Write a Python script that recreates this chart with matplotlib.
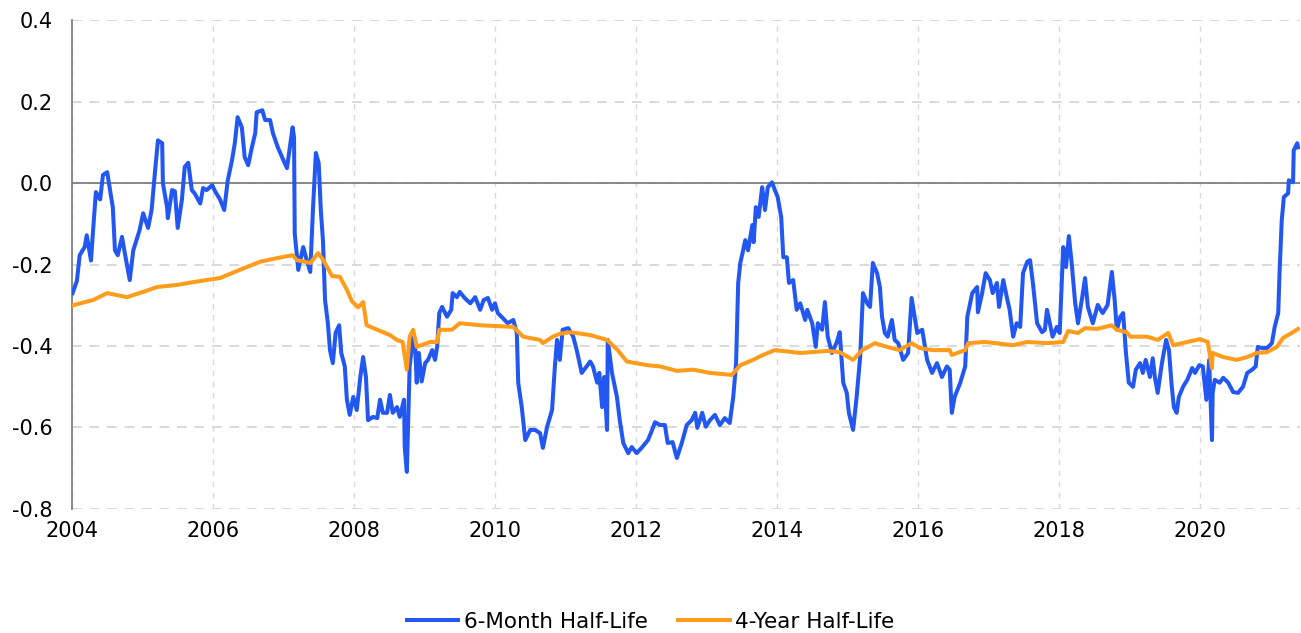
import matplotlib
matplotlib.use("Agg")
import matplotlib.pyplot as plt
import numpy as np

# 6-month half-life (decimal year, value)
short_years = [
    2004.01, 2004.07, 2004.11, 2004.18, 2004.21, 2004.27, 2004.30, 2004.34, 2004.40, 2004.44,
    2004.50, 2004.54, 2004.58, 2004.61, 2004.65, 2004.71, 2004.75, 2004.82, 2004.87, 2004.96,
    2005.01, 2005.08, 2005.13, 2005.18, 2005.22, 2005.28, 2005.29, 2005.35, 2005.36, 2005.42,
    2005.46, 2005.50, 2005.56, 2005.60, 2005.65, 2005.70, 2005.74, 2005.82, 2005.86, 2005.91,
    2005.99, 2006.03, 2006.10, 2006.16, 2006.21, 2006.27, 2006.31, 2006.35, 2006.41, 2006.45,
    2006.50, 2006.55, 2006.60, 2006.62, 2006.70, 2006.74, 2006.81, 2006.85, 2006.92, 2006.98,
    2007.05, 2007.09, 2007.13, 2007.15, 2007.16, 2007.21, 2007.28, 2007.33, 2007.38, 2007.42,
    2007.46, 2007.50, 2007.53, 2007.56, 2007.59, 2007.63, 2007.66, 2007.70, 2007.74, 2007.79,
    2007.82, 2007.87, 2007.90, 2007.94, 2007.99, 2008.04, 2008.09, 2008.13, 2008.17, 2008.20,
    2008.27, 2008.33, 2008.37, 2008.41, 2008.47, 2008.51, 2008.55, 2008.61, 2008.65, 2008.71,
    2008.72, 2008.75, 2008.79, 2008.84, 2008.87, 2008.89, 2008.92, 2008.96, 2009.01, 2009.05,
    2009.11, 2009.15, 2009.18, 2009.21, 2009.25, 2009.32, 2009.38, 2009.40, 2009.46, 2009.50,
    2009.57, 2009.65, 2009.72, 2009.79, 2009.84, 2009.90, 2009.96, 2010.00, 2010.04, 2010.11,
    2010.18, 2010.26, 2010.31, 2010.33, 2010.38, 2010.43, 2010.50, 2010.57, 2010.64, 2010.68,
    2010.74, 2010.81, 2010.85, 2010.88, 2010.92, 2010.96, 2011.04, 2011.11, 2011.16, 2011.23,
    2011.30, 2011.35, 2011.39, 2011.45, 2011.48, 2011.52, 2011.55, 2011.59, 2011.60, 2011.66,
    2011.73, 2011.77, 2011.82, 2011.89, 2011.94, 2012.01, 2012.09, 2012.17, 2012.23, 2012.27,
    2012.34, 2012.41, 2012.45, 2012.52, 2012.58, 2012.65, 2012.72, 2012.79, 2012.84, 2012.87,
    2012.94, 2012.99, 2013.05, 2013.12, 2013.19, 2013.26, 2013.33, 2013.38, 2013.42, 2013.45,
    2013.48, 2013.52, 2013.55, 2013.59, 2013.65, 2013.67, 2013.70, 2013.74, 2013.79, 2013.83,
    2013.87, 2013.93, 2013.97, 2014.01, 2014.06, 2014.09, 2014.14, 2014.17, 2014.23, 2014.28,
    2014.33, 2014.40, 2014.43, 2014.50, 2014.55, 2014.58, 2014.64, 2014.68, 2014.72, 2014.78,
    2014.85, 2014.89, 2014.94, 2014.99, 2015.02, 2015.08, 2015.13, 2015.18, 2015.22, 2015.28,
    2015.32, 2015.36, 2015.42, 2015.46, 2015.49, 2015.53, 2015.57, 2015.63, 2015.67, 2015.72,
    2015.79, 2015.86, 2015.91, 2015.99, 2016.06, 2016.13, 2016.20, 2016.27, 2016.34, 2016.41,
    2016.45, 2016.48, 2016.52, 2016.60, 2016.67, 2016.70, 2016.77, 2016.84, 2016.85, 2016.91,
    2016.96, 2017.02, 2017.06, 2017.12, 2017.15, 2017.21, 2017.26, 2017.30, 2017.35, 2017.40,
    2017.45, 2017.49, 2017.55, 2017.59, 2017.63, 2017.69, 2017.76, 2017.80, 2017.83, 2017.87,
    2017.91, 2017.97, 2018.01, 2018.06, 2018.10, 2018.14, 2018.18, 2018.23, 2018.27, 2018.33,
    2018.37, 2018.41, 2018.48, 2018.55, 2018.62, 2018.69, 2018.75, 2018.79, 2018.82, 2018.87,
    2018.91, 2018.95, 2018.99, 2019.05, 2019.09, 2019.15, 2019.19, 2019.23, 2019.29, 2019.33,
    2019.36, 2019.40, 2019.46, 2019.52, 2019.56, 2019.60, 2019.63, 2019.67, 2019.70, 2019.76,
    2019.82, 2019.89, 2019.93, 2019.99, 2020.04, 2020.09, 2020.13, 2020.17, 2020.18, 2020.21,
    2020.28, 2020.33, 2020.40, 2020.47, 2020.54, 2020.61, 2020.67, 2020.74, 2020.79, 2020.82,
    2020.88, 2020.95, 2021.02, 2021.06, 2021.11, 2021.13, 2021.16, 2021.19, 2021.25, 2021.26,
    2021.32, 2021.33, 2021.38, 2021.39,
]
short_values = [
    -0.270, -0.240, -0.177, -0.157, -0.128, -0.190, -0.115, -0.022, -0.040, 0.020,
    0.027, -0.017, -0.060, -0.165, -0.177, -0.132, -0.172, -0.238, -0.165, -0.115,
    -0.074, -0.110, -0.066, 0.032, 0.105, 0.098, 0.000, -0.060, -0.086, -0.017,
    -0.020, -0.110, -0.040, 0.040, 0.050, -0.017, -0.025, -0.050, -0.012, -0.017,
    -0.005, -0.020, -0.040, -0.066, 0.007, 0.056, 0.098, 0.162, 0.137, 0.064,
    0.044, 0.086, 0.123, 0.174, 0.179, 0.155, 0.155, 0.123, 0.088, 0.064,
    0.037, 0.088, 0.137, 0.113, -0.123, -0.213, -0.157, -0.189, -0.218, -0.059,
    0.074, 0.049, -0.066, -0.140, -0.287, -0.344, -0.410, -0.442, -0.368, -0.349,
    -0.417, -0.450, -0.532, -0.569, -0.525, -0.557, -0.476, -0.427, -0.476, -0.582,
    -0.574, -0.577, -0.532, -0.564, -0.564, -0.520, -0.564, -0.550, -0.574, -0.532,
    -0.648, -0.709, -0.450, -0.377, -0.410, -0.490, -0.417, -0.487, -0.442, -0.434,
    -0.410, -0.434, -0.402, -0.319, -0.304, -0.328, -0.311, -0.270, -0.280, -0.267,
    -0.282, -0.295, -0.280, -0.311, -0.287, -0.282, -0.311, -0.295, -0.319, -0.331,
    -0.344, -0.336, -0.368, -0.490, -0.550, -0.631, -0.606, -0.606, -0.614, -0.650,
    -0.598, -0.557, -0.450, -0.385, -0.434, -0.360, -0.356, -0.377, -0.410, -0.466,
    -0.450, -0.438, -0.450, -0.490, -0.466, -0.550, -0.476, -0.606, -0.385, -0.466,
    -0.525, -0.582, -0.638, -0.663, -0.648, -0.663, -0.648, -0.631, -0.606, -0.587,
    -0.594, -0.594, -0.638, -0.636, -0.675, -0.638, -0.594, -0.582, -0.564, -0.601,
    -0.564, -0.598, -0.582, -0.569, -0.594, -0.577, -0.589, -0.525, -0.442, -0.245,
    -0.196, -0.165, -0.140, -0.165, -0.103, -0.145, -0.059, -0.083, -0.010, -0.066,
    -0.010, 0.002, -0.017, -0.034, -0.083, -0.182, -0.182, -0.245, -0.238, -0.311,
    -0.295, -0.336, -0.311, -0.344, -0.402, -0.344, -0.360, -0.292, -0.377, -0.417,
    -0.390, -0.366, -0.490, -0.515, -0.564, -0.606, -0.525, -0.427, -0.270, -0.295,
    -0.304, -0.196, -0.221, -0.255, -0.328, -0.368, -0.377, -0.336, -0.385, -0.393,
    -0.434, -0.417, -0.282, -0.368, -0.360, -0.434, -0.466, -0.442, -0.476, -0.450,
    -0.458, -0.564, -0.525, -0.490, -0.450, -0.328, -0.270, -0.255, -0.317, -0.270,
    -0.221, -0.238, -0.270, -0.245, -0.304, -0.238, -0.280, -0.311, -0.377, -0.344,
    -0.353, -0.221, -0.193, -0.189, -0.245, -0.344, -0.366, -0.360, -0.311, -0.344,
    -0.377, -0.353, -0.368, -0.157, -0.206, -0.130, -0.196, -0.295, -0.344, -0.280,
    -0.233, -0.304, -0.344, -0.299, -0.319, -0.299, -0.218, -0.287, -0.360, -0.328,
    -0.319, -0.417, -0.490, -0.500, -0.458, -0.442, -0.466, -0.434, -0.476, -0.430,
    -0.476, -0.515, -0.442, -0.385, -0.410, -0.500, -0.550, -0.564, -0.525, -0.500,
    -0.483, -0.454, -0.466, -0.447, -0.450, -0.532, -0.434, -0.631, -0.515, -0.483,
    -0.490, -0.478, -0.490, -0.513, -0.515, -0.500, -0.466, -0.458, -0.450, -0.402,
    -0.405, -0.405, -0.393, -0.353, -0.319, -0.213, -0.091, -0.034, -0.025, 0.007,
    0.002, 0.081, 0.098, 0.088,
]

# 4-year half-life (decimal year, value)
long_years = [
    2004.01, 2004.30, 2004.50, 2004.78, 2005.01, 2005.21, 2005.49, 2005.72, 2006.10, 2006.38,
    2006.67, 2006.91, 2007.13, 2007.19, 2007.38, 2007.49, 2007.55, 2007.69, 2007.80, 2007.90,
    2007.97, 2008.06, 2008.13, 2008.18, 2008.33, 2008.51, 2008.61, 2008.69, 2008.75, 2008.79,
    2008.84, 2008.89, 2009.08, 2009.18, 2009.21, 2009.39, 2009.50, 2009.79, 2010.26, 2010.40,
    2010.64, 2010.68, 2010.82, 2010.92, 2011.06, 2011.35, 2011.59, 2011.74, 2011.87, 2012.16,
    2012.34, 2012.58, 2012.81, 2013.05, 2013.36, 2013.48, 2013.66, 2013.80, 2013.97, 2014.33,
    2014.71, 2014.89, 2015.08, 2015.21, 2015.39, 2015.56, 2015.74, 2015.91, 2016.03, 2016.21,
    2016.45, 2016.48, 2016.67, 2016.71, 2016.95, 2017.35, 2017.55, 2017.83, 2018.06, 2018.13,
    2018.27, 2018.37, 2018.54, 2018.75, 2018.82, 2018.96, 2019.01, 2019.25, 2019.40, 2019.55,
    2019.62, 2019.82, 2020.00, 2020.11, 2020.17, 2020.18, 2020.33, 2020.52, 2020.67, 2020.81,
    2020.95, 2021.09, 2021.18, 2021.30, 2021.39,
]
long_values = [
    -0.300, -0.287, -0.270, -0.280, -0.267, -0.255, -0.250, -0.243, -0.233, -0.213,
    -0.193, -0.184, -0.177, -0.189, -0.196, -0.172, -0.185, -0.228, -0.230, -0.262,
    -0.290, -0.305, -0.292, -0.349, -0.360, -0.373, -0.385, -0.390, -0.458, -0.377,
    -0.360, -0.402, -0.390, -0.390, -0.360, -0.360, -0.344, -0.349, -0.353, -0.377,
    -0.385, -0.393, -0.377, -0.370, -0.366, -0.373, -0.385, -0.410, -0.438, -0.447,
    -0.450, -0.461, -0.458, -0.466, -0.471, -0.447, -0.434, -0.422, -0.410, -0.417,
    -0.412, -0.415, -0.434, -0.410, -0.393, -0.402, -0.410, -0.393, -0.405, -0.410,
    -0.410, -0.422, -0.410, -0.393, -0.390, -0.398, -0.390, -0.393, -0.390, -0.363,
    -0.368, -0.356, -0.358, -0.349, -0.360, -0.366, -0.377, -0.377, -0.385, -0.368,
    -0.398, -0.390, -0.383, -0.390, -0.454, -0.417, -0.427, -0.434, -0.427, -0.417,
    -0.415, -0.402, -0.380, -0.368, -0.358,
]

x_ticks = list(range(2004, 2021, 2))
y_ticks = [-0.8, -0.6, -0.4, -0.2, 0.0, 0.2, 0.4]

blue = "#2257f2"
orange = "#ff9c1c"

fig = plt.figure(figsize=(13.01, 6.33), dpi=100)
ax = fig.add_axes([0.0553, 0.196, 0.9440, 0.772])

ax.plot(short_years, short_values, color=blue, lw=2.9, label="6-Month Half-Life",
        solid_joinstyle="round", zorder=3)
ax.plot(long_years, long_values, color=orange, lw=2.9, label="4-Year Half-Life",
        solid_joinstyle="round", zorder=4)
ax.axhline(0, color="#808080", lw=1.3, zorder=2)

ax.set_xlim(2004, 2021.42)
ax.set_ylim(-0.8, 0.4)
ax.set_xticks(x_ticks)
ax.set_yticks(y_ticks)
ax.set_yticklabels([f"{v:.1f}" for v in y_ticks])
ax.tick_params(length=0, labelsize=15)
ax.tick_params(axis="y", pad=14)
ax.tick_params(axis="x", pad=9)

ax.grid(axis="y", color="#d9d9d9", lw=1.4, linestyle=(0, (5, 4)), zorder=1)
ax.grid(axis="x", color="#d9d9d9", lw=1.0, linestyle=(0, (4, 4)), zorder=1)

for s in ["top", "right", "bottom"]:
    ax.spines[s].set_visible(False)
ax.spines["left"].set_color("#808080")
ax.spines["left"].set_linewidth(1.3)

fig.legend(loc="lower center", bbox_to_anchor=(0.5, -0.029), ncol=2, frameon=False,
           fontsize=15.5, handlelength=2.4, columnspacing=1.4, handletextpad=0.25)

fig.savefig("out.png", dpi=100)
